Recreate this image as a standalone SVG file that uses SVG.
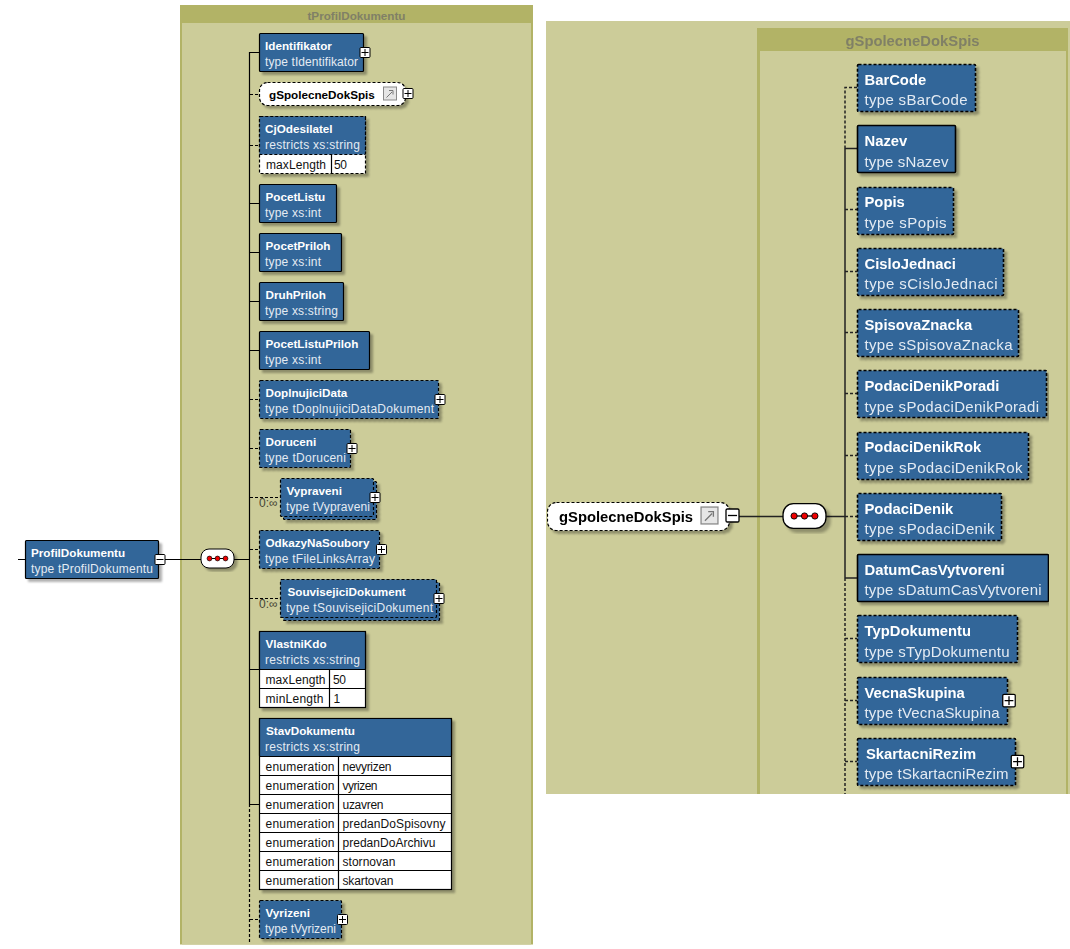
<svg xmlns="http://www.w3.org/2000/svg" width="1070" height="949" viewBox="0 0 1070 949">
<style>
text{font-family:"Liberation Sans",Arial,sans-serif}
.l text{font-size:12px}
.l .n,.l .h{font-size:11.7px}
.r text{font-size:15px}
.r .n,.r .h{font-size:14.800px}
.n{font-weight:bold;fill:#fff}
.t{fill:#e4ebf3}
.k{fill:#111}
.b{fill:#336699;stroke:#000;stroke-width:1.2;rx:1px}
.d{stroke-dasharray:3 2}
.r .b{stroke-width:1.600}
.w{fill:#fff;stroke:#000;stroke-width:1.2}
.s{filter:url(#sh)}
.c{stroke:#000;stroke-width:1.2;fill:none}
.r .c{stroke:#222;stroke-width:1.500}
.h{font-weight:bold;fill:#808066;text-anchor:middle}
.bub{fill:#443}
</style>
<defs>
<filter id="sh" x="-10%" y="-10%" width="125%" height="130%"><feDropShadow dx="3" dy="3" stdDeviation="1.100" flood-color="#000" flood-opacity=".3"/></filter>
<filter id="soft" x="0" y="0" width="100%" height="100%"><feGaussianBlur stdDeviation=".35"/></filter>
<g id="plus"><rect x="-5" y="-5" width="10" height="10" rx="1" fill="#fff" stroke="#000" stroke-width="1"/><path d="M-3.500 0H3.500M0-3.500V3.500" stroke="#000" stroke-width="1"/></g>
<g id="minus"><rect x="-5" y="-5" width="10" height="10" rx="1" fill="#fff" stroke="#000" stroke-width="1"/><path d="M-3.500 0H3.500" stroke="#000" stroke-width="1"/></g>
<g id="bubble"><rect x="-16.500" y="-9.500" width="33" height="19" rx="8" fill="#fff" stroke="#000" stroke-width="1" filter="url(#sh)"/><path d="M-8 0H8" stroke="#000" stroke-width="1"/><circle cx="-8" r="2.400" fill="#e00" stroke="#000" stroke-width=".7"/><circle r="2.400" fill="#e00" stroke="#000" stroke-width=".7"/><circle cx="8" r="2.400" fill="#e00" stroke="#000" stroke-width=".7"/></g>
<g id="ref"><rect x="-6.500" y="-6.500" width="13" height="13" fill="#e6e6e6" stroke="#8a8a8a" stroke-width="1"/><path d="M-3.500 4 L2 -1.500 M-1 -3H3V1" fill="none" stroke="#777" stroke-width="1"/></g>
</defs>
<rect width="1070" height="949" fill="#fff"/>

<g id="panel-left">
<rect x="180" y="5" width="353" height="939.500" fill="#b2b366"/>
<rect x="182" y="23" width="349" height="921.500" fill="#cccc99"/>
</g>
<g id="panel-right">
<rect x="546" y="21" width="524" height="773" fill="#cccc99"/>
<rect x="757" y="28" width="311" height="766" fill="#b2b366"/>
<rect x="760" y="51" width="306" height="743" fill="#cccc99"/>
</g>

<g class="l">
<text class="h" x="356.500" y="20">tProfilDokumentu</text>
<g id="connectors-left">
<path class="c" d="M18 559.500H25M159 559.500H249.500"/>
<path class="c" d="M249.500 52V804M249.500 52.500H260M249.500 203.500H260M249.500 252.500H260M249.500 301.500H260M249.500 350.500H260M249.500 669.500H260M249.500 804.500H260"/>
<path class="c d" d="M250 94.500H260M250 145.500H260M250 399.500H260M250 448.500H260M250 497.500H281M250 549.500H260M250 598.500H281M249.500 804V944M250 919.500H260"/>
</g>
<g id="ProfilDokumentu"><rect class="b s" x="25.500" y="540.500" width="133" height="38"/><text class="n" x="31" y="557">ProfilDokumentu</text><text class="t" x="31" y="573" textLength="122">type tProfilDokumentu</text><use href="#minus" x="160" y="559.500"/></g>
<g id="sequence-left"><use href="#bubble" x="217.500" y="558.500"/></g>
<g id="Identifikator"><rect class="b s" x="259.500" y="33.500" width="104" height="38"/><text class="n" x="265" y="50">Identifikator</text><text class="t" x="265" y="66" textLength="93">type tIdentifikator</text><use href="#plus" x="365" y="52.500"/></g>
<g id="gSpolecneDokSpis-ref"><rect class="w d s" x="259.500" y="82.500" width="146" height="23" rx="8"/><text class="n" style="fill:#000" x="269" y="98.500">gSpolecneDokSpis</text><use href="#ref" x="390" y="93.500"/><use href="#plus" x="408" y="93.500"/></g>
<g id="CjOdesilatel"><rect class="w s d" x="259.500" y="116.500" width="106" height="57"/><rect class="b d" x="259.500" y="116.500" width="106" height="38"/><path class="c" d="M331.500 155V173"/><text class="n" x="265" y="133">CjOdesilatel</text><text class="t" x="265" y="149" textLength="95">restricts xs:string</text><text class="k" x="266" y="169" textLength="60">maxLength</text><text class="k" x="334" y="169" textLength="13">50</text></g>
<g id="PocetListu"><rect class="b s" x="259.500" y="184.500" width="77" height="38"/><text class="n" x="265.500" y="201">PocetListu</text><text class="t" x="265" y="217" textLength="56">type xs:int</text></g>
<g id="PocetPriloh"><rect class="b s" x="259.500" y="233.500" width="82" height="38"/><text class="n" x="265.500" y="250">PocetPriloh</text><text class="t" x="265" y="266" textLength="56">type xs:int</text></g>
<g id="DruhPriloh"><rect class="b s" x="259.500" y="282.500" width="84" height="38"/><text class="n" x="265.500" y="299">DruhPriloh</text><text class="t" x="265" y="315" textLength="73">type xs:string</text></g>
<g id="PocetListuPriloh"><rect class="b s" x="259.500" y="331.500" width="110" height="38"/><text class="n" x="265.500" y="348">PocetListuPriloh</text><text class="t" x="265" y="364" textLength="56">type xs:int</text></g>
<g id="DoplnujiciData"><rect class="b d s" x="259.500" y="380.500" width="179" height="38"/><text class="n" x="265.500" y="397">DoplnujiciData</text><text class="t" x="265" y="413" textLength="169">type tDoplnujiciDataDokument</text><use href="#plus" x="440" y="399.500"/></g>
<g id="Doruceni"><rect class="b d s" x="259.500" y="429.500" width="91" height="38"/><text class="n" x="265.500" y="446">Doruceni</text><text class="t" x="265" y="462" textLength="81">type tDoruceni</text><use href="#plus" x="352" y="448.500"/></g>
<g id="Vypraveni"><rect class="b d s" x="283.500" y="481.500" width="93" height="38"/><rect class="b d" x="280.500" y="478.500" width="93" height="38"/><text class="n" x="286.500" y="495">Vypraveni</text><text class="t" x="286" y="511" textLength="84">type tVypraveni</text><use href="#plus" x="375" y="497.500"/><text class="bub" x="259" y="507">0:∞</text></g>
<g id="OdkazyNaSoubory"><rect class="b d s" x="259.500" y="530.500" width="120" height="38"/><text class="n" x="265.500" y="547">OdkazyNaSoubory</text><text class="t" x="265" y="563" textLength="110">type tFileLinksArray</text><use href="#plus" x="381.500" y="549.500"/></g>
<g id="SouvisejiciDokument"><rect class="b d s" x="283.500" y="582.500" width="156" height="38"/><rect class="b d" x="280.500" y="579.500" width="156" height="38"/><text class="n" x="287.500" y="596">SouvisejiciDokument</text><text class="t" x="286" y="612" textLength="147">type tSouvisejiciDokument</text><use href="#plus" x="439" y="598.500"/><text class="bub" x="259" y="608">0:∞</text></g>
<g id="VlastniKdo"><rect class="w s" x="259.500" y="631.500" width="106" height="76"/><rect class="b" x="259.500" y="631.500" width="106" height="38"/><path class="c" d="M259.500 688.500H365.500M329.500 669.500V707.500"/><text class="n" x="265.500" y="648">VlastniKdo</text><text class="t" x="265" y="664" textLength="95">restricts xs:string</text><text class="k" x="265.500" y="684" textLength="60">maxLength</text><text class="k" x="333" y="684" textLength="13">50</text><text class="k" x="265.500" y="703" textLength="58">minLength</text><text class="k" x="333.500" y="703">1</text></g>
<g id="StavDokumentu"><rect class="w s" x="259.500" y="718.500" width="192" height="171"/><rect class="b" x="259.500" y="718.500" width="192" height="38"/><path class="c" d="M259.500 775.500H451.500M259.500 794.500H451.500M259.500 813.500H451.500M259.500 832.500H451.500M259.500 851.500H451.500M259.500 870.500H451.500M338.500 756.500V889.500"/><text class="n" x="266" y="735">StavDokumentu</text><text class="t" x="265" y="751" textLength="95">restricts xs:string</text>
<text class="k" x="265.500" y="771" textLength="69">enumeration</text><text class="k" x="342.500" y="771" textLength="49">nevyrizen</text>
<text class="k" x="265.500" y="790" textLength="69">enumeration</text><text class="k" x="342.500" y="790" textLength="35">vyrizen</text>
<text class="k" x="265.500" y="809" textLength="69">enumeration</text><text class="k" x="342.500" y="809" textLength="41">uzavren</text>
<text class="k" x="265.500" y="828" textLength="69">enumeration</text><text class="k" x="342.500" y="828" textLength="103">predanDoSpisovny</text>
<text class="k" x="265.500" y="847" textLength="69">enumeration</text><text class="k" x="342.500" y="847" textLength="93">predanDoArchivu</text>
<text class="k" x="265.500" y="866" textLength="69">enumeration</text><text class="k" x="342.500" y="866" textLength="53">stornovan</text>
<text class="k" x="265.500" y="885" textLength="69">enumeration</text><text class="k" x="342.500" y="885" textLength="51">skartovan</text></g>
<g id="Vyrizeni"><rect class="b d s" x="259.500" y="900.500" width="82" height="38"/><text class="n" x="265.500" y="917">Vyrizeni</text><text class="t" x="265" y="933" textLength="71">type tVyrizeni</text><use href="#plus" x="342.500" y="919.500"/></g>
</g>

<g class="r" filter="url(#soft)">
<text class="h" x="912.500" y="46">gSpolecneDokSpis</text>
<g id="connectors-right">
<path class="c" d="M739 516.500H783M826 516.500H845M845 148V578M845 148.500H857M845 578H857"/>
<path class="c d" d="M857 87.500H845V148M845 209.500H857M845 271.500H857M845 332.500H857M845 393.500H857M845 455.500H857M845 516.500H857M845 578V794M845 638.500H857M845 700.500H857M845 761.500H857"/>
</g>
<g id="gSpolecneDokSpis"><rect class="w d s" x="547.500" y="502.500" width="182" height="28" rx="9" stroke-width="1.500"/><text class="n" style="fill:#000" x="559" y="522">gSpolecneDokSpis</text><g transform="translate(709.500 515.500) scale(1.300)"><use href="#ref"/></g><g transform="translate(732.500 515.500) scale(1.300)"><use href="#minus"/></g></g>
<g id="sequence-right"><g transform="translate(804.500 516) scale(1.300)"><use href="#bubble"/></g></g>
<g id="BarCode"><rect class="b d s" x="857.500" y="64.500" width="118" height="47"/><text class="n" x="864.500" y="84.500">BarCode</text><text class="t" x="864.500" y="105" textLength="103">type sBarCode</text></g>
<g id="Nazev"><rect class="b s" x="857.500" y="125.500" width="98" height="47"/><text class="n" x="864.500" y="146">Nazev</text><text class="t" x="864.500" y="167" textLength="84">type sNazev</text></g>
<g id="Popis"><rect class="b d s" x="857.500" y="187.500" width="96" height="47"/><text class="n" x="864.500" y="207">Popis</text><text class="t" x="864.500" y="228" textLength="82">type sPopis</text></g>
<g id="CisloJednaci"><rect class="b d s" x="857.500" y="248.500" width="146" height="47"/><text class="n" x="864.500" y="268.500">CisloJednaci</text><text class="t" x="864.500" y="289" textLength="133">type sCisloJednaci</text></g>
<g id="SpisovaZnacka"><rect class="b d s" x="857.500" y="309.500" width="161" height="47"/><text class="n" x="864.500" y="330">SpisovaZnacka</text><text class="t" x="864.500" y="350" textLength="148">type sSpisovaZnacka</text></g>
<g id="PodaciDenikPoradi"><rect class="b d s" x="857.500" y="370.500" width="189" height="47"/><text class="n" x="864.500" y="391">PodaciDenikPoradi</text><text class="t" x="864.500" y="412" textLength="174.500">type sPodaciDenikPoradi</text></g>
<g id="PodaciDenikRok"><rect class="b d s" x="857.500" y="432.500" width="171" height="47"/><text class="n" x="864.500" y="452">PodaciDenikRok</text><text class="t" x="864.500" y="473" textLength="158">type sPodaciDenikRok</text></g>
<g id="PodaciDenik"><rect class="b d s" x="857.500" y="493.500" width="144" height="47"/><text class="n" x="864.500" y="514">PodaciDenik</text><text class="t" x="864.500" y="534" textLength="130">type sPodaciDenik</text></g>
<g id="DatumCasVytvoreni"><rect class="b s" x="857.500" y="554.500" width="191" height="47"/><text class="n" x="864.500" y="575">DatumCasVytvoreni</text><text class="t" x="864.500" y="595" textLength="177">type sDatumCasVytvoreni</text></g>
<g id="TypDokumentu"><rect class="b d s" x="857.500" y="615.500" width="160" height="47"/><text class="n" x="864.500" y="636">TypDokumentu</text><text class="t" x="864.500" y="656.500" textLength="145">type sTypDokumentu</text></g>
<g id="VecnaSkupina"><rect class="b d s" x="857.500" y="677.500" width="150" height="47"/><text class="n" x="864.500" y="697.500">VecnaSkupina</text><text class="t" x="864.500" y="718" textLength="135">type tVecnaSkupina</text><g transform="translate(1009 700.500) scale(1.250)"><use href="#plus"/></g></g>
<g id="SkartacniRezim"><rect class="b d s" x="857.500" y="738.500" width="158" height="47"/><text class="n" x="866" y="758.500">SkartacniRezim</text><text class="t" x="864.500" y="779" textLength="144">type tSkartacniRezim</text><g transform="translate(1017.500 761.500) scale(1.250)"><use href="#plus"/></g></g>
</g>
</svg>
